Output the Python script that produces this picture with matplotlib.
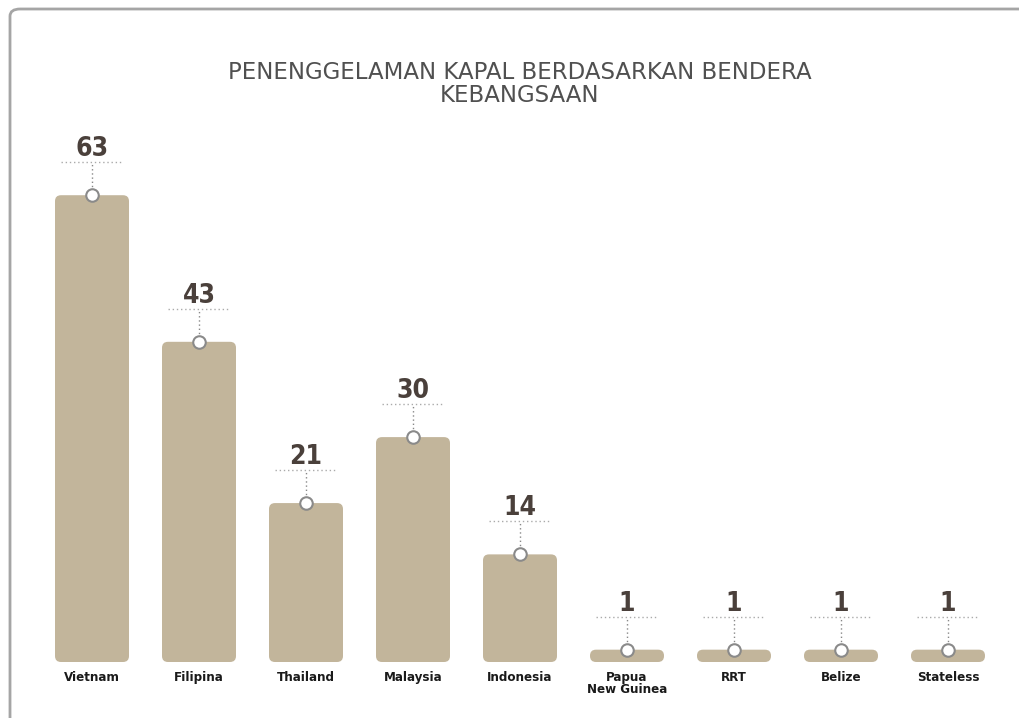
import numpy as np
import matplotlib.pyplot as plt
from matplotlib.patches import FancyBboxPatch

# data
countries = ['Vietnam', 'Filipina', 'Thailand', 'Malaysia', 'Indonesia',
             'Papua\nNew Guinea', 'RRT', 'Belize', 'Stateless']
counts = [63, 43, 21, 30, 14, 1, 1, 1, 1]

title = 'PENENGGELAMAN KAPAL BERDASARKAN BENDERA\nKEBANGSAAN'

bar_color = '#c2b59b'
num_color = '#4a403b'
W, H = 1020, 718

fig = plt.figure(figsize=(W / 100, H / 100), dpi=100)
ax = fig.add_axes([0, 0, 1, 1])

# pixel mapping: x px = 92 + 107*i ; y px (from top) = 657 - 7.33*v
px_x, x0 = 107.0, 92.0
px_y, y0 = 7.33, 657.0
ax.set_xlim(-x0 / px_x, (W - x0) / px_x)
ax.set_ylim((y0 - H) / px_y, y0 / px_y)
ax.axis('off')

ux = 1 / px_x  # data units per pixel
uy = 1 / px_y
bw = 74 * ux
base = -5 * uy  # bars start a bit below the zero line

fonts = ['Liberation Sans Narrow', 'DejaVu Sans']

for i, (c, v) in enumerate(zip(countries, counts)):
    # rounded bar
    bar = FancyBboxPatch((i - bw / 2, base), bw, v - base,
                         boxstyle='round,pad=0,rounding_size=%f' % (6 * ux),
                         mutation_aspect=px_x / px_y,
                         facecolor=bar_color, edgecolor='none', zorder=2)
    ax.add_patch(bar)
    # dotted leader
    top = v + 33 * uy
    ax.plot([i, i], [v, top], ls=(0, (1, 2)), color='#888888', lw=1, zorder=3)
    ax.plot([i - 31 * ux, i + 31 * ux], [top, top], ls=(0, (1, 2)),
            color='#aaaaaa', lw=1, zorder=3)
    ax.plot(i, v, 'o', ms=9, mfc='white', mec='#8a8a8a', mew=1.5, zorder=4)
    ax.text(i, top + 6 * uy, str(v), ha='center', va='baseline', fontsize=19,
            fontweight='bold', family=fonts, stretch='condensed',
            color=num_color)
    ax.text(i, base - 9 * uy, c, ha='center', va='top', fontsize=9.5,
            fontweight='bold', family=fonts, stretch='condensed',
            color='#1a1a1a', linespacing=0.9)

fig.text(520 / W, 1 - 61 / H, title, ha='center', va='top', fontsize=16.5,
         color='#505050', linespacing=0.98)

# outer card border
card = FancyBboxPatch((10 / W, -0.05), 1.05, 1 - 9 / H + 0.05,
                      boxstyle='round,pad=0,rounding_size=0.01',
                      transform=fig.transFigure, facecolor='none',
                      edgecolor='#a5a5a5', lw=2, zorder=10)
fig.patches.append(card)

fig.savefig('out.png', dpi=100)
